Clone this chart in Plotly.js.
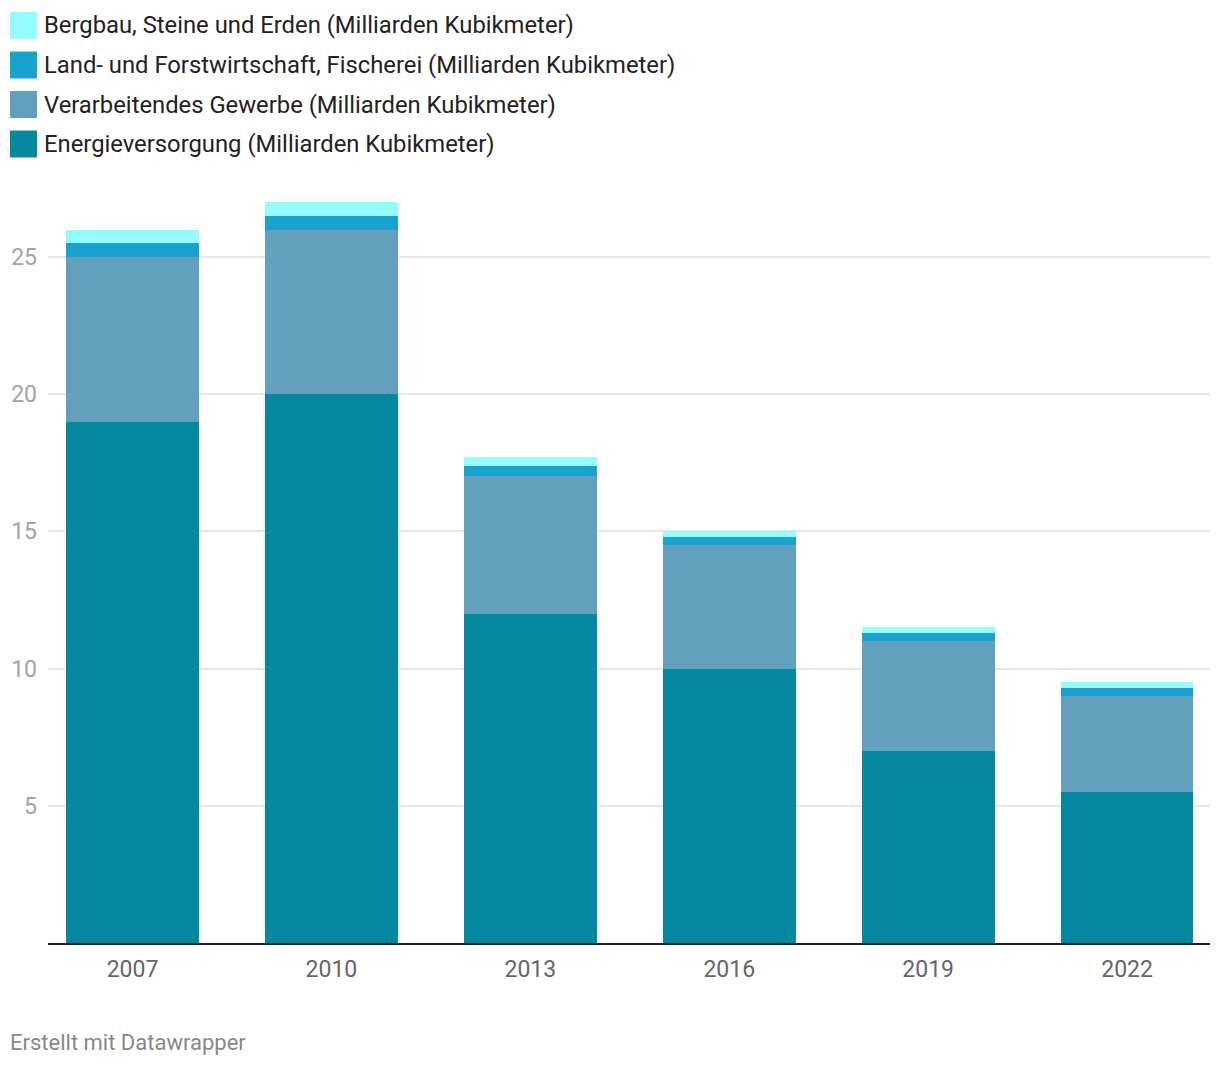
<!DOCTYPE html>
<html>
<head>
<meta charset="utf-8">
<script src="https://cdn.plot.ly/plotly-3.0.1.min.js"></script>
<style>
  html, body { margin: 0; padding: 0; background: #fff; }
  #chart { width: 1220px; height: 1068px; }
</style>
</head>
<body>
<div id="chart"></div>
<script>
const years = ["2007", "2010", "2013", "2016", "2019", "2022"];
const energie = [19, 20, 12, 10, 7, 5.5];
const verarbeitend = [6, 6, 5, 4.5, 4, 3.5];
const landForst = [0.5, 0.5, 0.4, 0.3, 0.3, 0.3];
const bergbau = [0.5, 0.5, 0.3, 0.2, 0.2, 0.2];
const yTicks = [5, 10, 15, 20, 25];

const seriesNames = [
  "Energieversorgung (Milliarden Kubikmeter)",
  "Verarbeitendes Gewerbe (Milliarden Kubikmeter)",
  "Land- und Forstwirtschaft, Fischerei (Milliarden Kubikmeter)",
  "Bergbau, Steine und Erden (Milliarden Kubikmeter)"
];
const seriesValues = [energie, verarbeitend, landForst, bergbau];
const seriesColors = ["#0788a1", "#63a0be", "#1aa2cf", "#96fbfc"];

const W = 1220, H = 1068;
const M = { l: 48, r: 10, t: 190, b: 125 };
const PW = W - M.l - M.r, PH = H - M.t - M.b;
const px = x => (x - M.l) / PW;
const py = y => (H - M.b - y) / PH;

const FONT = "Roboto, 'Noto Sans', sans-serif";

const traces = seriesValues.map((vals, i) => ({
  type: "bar",
  x: years,
  y: vals,
  name: seriesNames[i],
  marker: { color: seriesColors[i], line: { width: 0 } },
  hoverinfo: "skip",
  showlegend: false
}));

// custom legend (top-left), listed top-of-stack first
const shapes = [];
const annotations = [];
const legendOrder = [3, 2, 1, 0];
legendOrder.forEach((si, row) => {
  const cy = 25.5 + row * 39.5;
  shapes.push({
    type: "rect", xref: "paper", yref: "paper",
    x0: px(10), x1: px(37), y0: py(cy - 13.5), y1: py(cy + 13.5),
    fillcolor: seriesColors[si], line: { width: 0 }
  });
  annotations.push({
    xref: "paper", yref: "paper", x: px(42), y: py(cy),
    xanchor: "left", yanchor: "middle", showarrow: false,
    text: seriesNames[si],
    font: { family: FONT, size: 23.8, color: "#222" }
  });
});

annotations.push({
  xref: "paper", yref: "paper", x: px(8), y: py(1042),
  xanchor: "left", yanchor: "middle", showarrow: false,
  text: "Erstellt mit Datawrapper",
  font: { family: FONT, size: 22, color: "#888" }
});

const layout = {
  width: W, height: H,
  margin: M,
  paper_bgcolor: "#fff",
  plot_bgcolor: "#fff",
  barmode: "stack",
  bargap: 0.332,
  font: { family: FONT },
  xaxis: {
    type: "category",
    range: [-0.425, 5.417],
    showgrid: false,
    showline: true,
    linecolor: "#222",
    linewidth: 2,
    ticks: "",
    ticklabelstandoff: 4,
    tickfont: { family: FONT, size: 23, color: "#666" },
    fixedrange: true
  },
  yaxis: {
    range: [0, 27.44],
    tickvals: yTicks,
    ticktext: yTicks.map(String),
    showgrid: true,
    gridcolor: "#e6e6e6",
    gridwidth: 2,
    zeroline: false,
    ticks: "",
    ticklabelstandoff: 10,
    tickfont: { family: FONT, size: 23, color: "#a3a3a3" },
    fixedrange: true
  },
  shapes: shapes,
  annotations: annotations,
  showlegend: false
};

Plotly.newPlot("chart", traces, layout, { displayModeBar: false, staticPlot: true });
</script>
</body>
</html>
